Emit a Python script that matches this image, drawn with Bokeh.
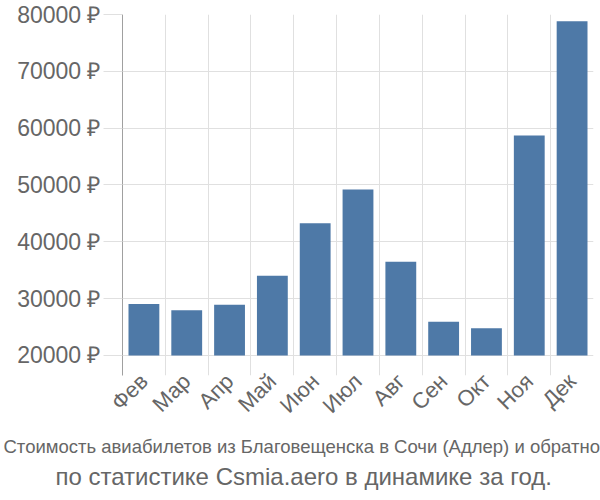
from bokeh.plotting import figure
from bokeh.models import Range1d, FixedTicker, Title
from bokeh.embed import file_html
from bokeh.resources import INLINE

months = ["Фев", "Мар", "Апр", "Май", "Июн", "Июл", "Авг", "Сен", "Окт", "Ноя", "Дек"]
prices = [29050, 27950, 28950, 34050, 43250, 49200, 36500, 25950, 24800, 58700, 78800]
y_ticks = [20000, 30000, 40000, 50000, 60000, 70000, 80000]
y_tick_labels = ["20000 ₽", "30000 ₽", "40000 ₽", "50000 ₽", "60000 ₽", "70000 ₽", "80000 ₽"]
title_line1 = "Стоимость авиабилетов из Благовещенска в Сочи (Адлер) и обратно"
title_line2 = "по статистике Csmia.aero в динамике за год."

n = len(months)
centers = list(range(1, n + 1))
bounds = [i + 0.5 for i in range(0, n + 1)]

p = figure(width=600, height=500, output_backend="svg", toolbar_location=None,
           x_range=Range1d(0.5, n + 0.5), y_range=Range1d(16480, 80000),
           min_border_left=122, min_border_right=7, min_border_top=14, min_border_bottom=125)
p.outline_line_color = None

p.vbar(x=centers, top=prices, bottom=20000, width=0.72, fill_color="#4e79a7", line_color=None)

TXT = "#666666"
FONT = "Liberation Sans"

xa = p.xaxis[0]
xa.ticker = FixedTicker(ticks=centers, minor_ticks=[])
xa.major_label_overrides = {c: m for c, m in zip(centers, months)}
xa.major_tick_line_color = None
xa.major_tick_in = 0
xa.major_tick_out = 0
xa.minor_tick_line_color = None
xa.axis_line_color = None
xa.major_label_orientation = 0.785398
xa.major_label_text_font_size = "22px"
xa.major_label_text_color = TXT
xa.major_label_text_font = FONT
xa.major_label_standoff = 2

ya = p.yaxis[0]
ya.ticker = FixedTicker(ticks=y_ticks, minor_ticks=[])
ya.major_label_overrides = {t: s for t, s in zip(y_ticks, y_tick_labels)}
ya.major_tick_line_color = "#e0e0e0"
ya.major_tick_in = 0
ya.major_tick_out = 19
ya.axis_line_color = "#a0a0a0"
ya.major_label_text_font_size = "23px"
ya.major_label_text_color = TXT
ya.major_label_text_font = FONT
ya.major_label_standoff = 3

p.xgrid.ticker = FixedTicker(ticks=bounds, minor_ticks=[])
p.xgrid.grid_line_color = "#e0e0e0"
p.ygrid.grid_line_color = "#e0e0e0"

t1 = Title(text=title_line1, align="left", offset=-119, text_font_size="18.5px", text_color=TXT,
           text_font=FONT, text_font_style="normal", standoff=8)
t2 = Title(text=title_line2, align="left", offset=-67, text_font_size="24px", text_color=TXT,
           text_font=FONT, text_font_style="normal", standoff=0)
p.add_layout(t1, "below")
p.add_layout(t2, "below")

open("out.html", "w").write(file_html(p, INLINE))
